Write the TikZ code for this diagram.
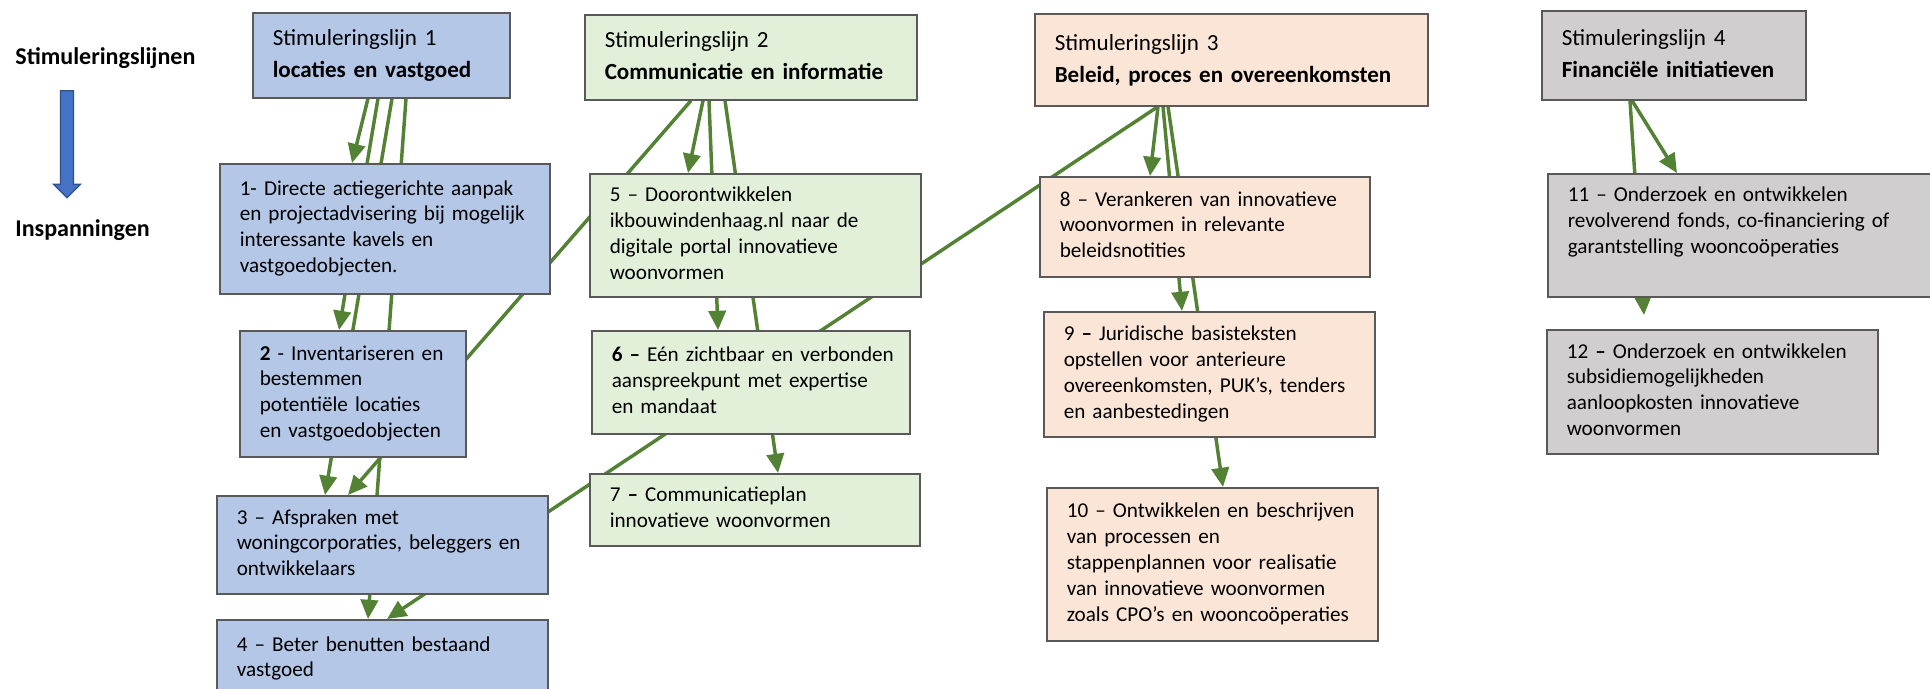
\documentclass[tikz,border=0pt]{standalone}
\usepackage{fontspec}
\setmainfont{Carlito}
\usetikzlibrary{arrows.meta,calc,backgrounds,shapes.arrows}

\definecolor{vlakblauw}{HTML}{B4C7E7}
\definecolor{vlakgroen}{HTML}{E2F0D9}
\definecolor{vlakzalm}{HTML}{FBE5D6}
\definecolor{vlakgrijs}{HTML}{D0CECE}
\definecolor{pijlgroen}{RGB}{84,130,53}
\definecolor{pijlblauw}{HTML}{4472C4}
\definecolor{randblauw}{HTML}{2F528F}

\newcommand{\regels}[1]{\begin{tabular}{@{}l@{}}#1\end{tabular}}

\tikzset{
  vak/.style={draw=black!65, line width=0.8pt, anchor=north west, align=left,
    inner xsep=10.4pt, inner ysep=0pt, font=\fontsize{11}{13.5}\selectfont},
  kop/.style={vak, font=\fontsize{12}{16.6}\selectfont},
  maat/.style 2 args={text width=#1, minimum height=#2},
  zijkop/.style={anchor=west, inner sep=0pt, font=\bfseries\fontsize{12.5}{15}\selectfont},
  blokpijl/.style={single arrow, draw=randblauw, fill=pijlblauw, line width=0.6pt,
    inner xsep=0pt, inner ysep=3.1pt, minimum height=55.6pt,
    single arrow head extend=3.64pt, rotate=-90},
  lijn/.style={draw=pijlgroen, line width=1.8pt, -{Triangle[length=10pt,width=9pt]}}
}

\begin{document}
\begin{tikzpicture}[x=0.52pt, y=-0.52pt]
\useasboundingbox (0,0) rectangle (1930,688);
\clip (0,0) rectangle (1930,688);

\node[zijkop] (stim) at (15,58) {Stimuleringslijnen};
\node[zijkop] (insp) at (15,230) {Inspanningen};
\node[blokpijl] (neer) at (67,141) {};

\node[kop, fill=vlakblauw, maat={112.84pt}{44.2pt}] (S1) at (252,12) {\regels{Stimuleringslijn 1\\\textbf{locaties en vastgoed}}};
\node[kop, fill=vlakgroen, maat={151.84pt}{44.2pt}] (S2) at (584,14) {\regels{Stimuleringslijn 2\\\textbf{Communicatie en informatie}}};
\node[kop, fill=vlakzalm, maat={183.56pt}{47.84pt}] (S3) at (1034,13) {\regels{Stimuleringslijn 3\\\textbf{Beleid, proces en overeenkomsten}}};
\node[kop, fill=vlakgrijs, maat={116.48pt}{46.28pt}] (S4) at (1541,10) {\regels{Stimuleringslijn 4\\\textbf{Financiële initiatieven}}};

\node[vak, fill=vlakblauw, maat={150.8pt}{67.6pt}] (I1) at (219,163) {\regels{1- Directe actiegerichte aanpak\\en projectadvisering bij mogelijk\\interessante kavels en\\vastgoedobjecten.}};
\node[vak, fill=vlakblauw, maat={96.72pt}{65.52pt}] (I2) at (239,330) {\regels{\textbf{2} - Inventariseren en\\bestemmen\\potentiële locaties\\en vastgoedobjecten}};
\node[vak, fill=vlakblauw, maat={151.32pt}{50.96pt}] (I3) at (216,495) {\regels{3 – Afspraken met\\woningcorporaties, beleggers en\\ontwikkelaars}};
\node[vak, fill=vlakblauw, maat={151.32pt}{54.08pt}] (I4) at (216,619) {\regels{4 – Beter benutten bestaand\\vastgoed\\~}};

\node[vak, fill=vlakgroen, maat={151.32pt}{63.96pt}] (I5) at (589,173) {\regels{5 – Doorontwikkelen\\ikbouwindenhaag.nl naar de\\digitale portal innovatieve\\woonvormen}};
\node[vak, fill=vlakgroen, maat={144.56pt}{53.56pt}] (I6) at (591,330) {\regels{\textbf{6 –} Eén zichtbaar en verbonden\\aanspreekpunt met expertise\\en mandaat}};
\node[vak, fill=vlakgroen, maat={150.8pt}{37.44pt}] (I7) at (589,473) {\regels{7 \textbf{–} Communicatieplan\\innovatieve woonvormen}};

\node[vak, fill=vlakzalm, maat={150.8pt}{52pt}] (I8) at (1039,176) {\regels{8 – Verankeren van innovatieve\\woonvormen in relevante\\beleidsnotities}};
\node[vak, fill=vlakzalm, maat={151.32pt}{65pt}] (I9) at (1043,311) {\regels{9 \textbf{–} Juridische basisteksten\\opstellen voor anterieure\\overeenkomsten, PUK’s, tenders\\en aanbestedingen}};
\node[vak, fill=vlakzalm, maat={151.32pt}{79.56pt}] (I10) at (1046,487) {\regels{10 – Ontwikkelen en beschrijven\\van processen en\\stappenplannen voor realisatie\\van innovatieve woonvormen\\zoals CPO’s en wooncoöperaties}};

\node[vak, fill=vlakgrijs, maat={197.6pt}{63.96pt}] (I11) at (1547,173) {\regels{11 – Onderzoek en ontwikkelen\\revolverend fonds, co-financiering of\\garantstelling wooncoöperaties\\~}};
\node[vak, fill=vlakgrijs, maat={151.32pt}{64.48pt}] (I12) at (1546,329) {\regels{12 \textbf{–} Onderzoek en ontwikkelen\\subsidiemogelijkheden\\aanloopkosten innovatieve\\woonvormen}};

\begin{scope}[on background layer]
\fill[white] (0,0) rectangle (1930,688);
\draw[lijn] ($(S1.south west)+(116,0)$) -- ($(I1.north west)+(133,0)$);
\draw[lijn] ($(S1.south west)+(126,0)$) -- ($(I2.north west)+(100,0)$);
\draw[lijn] ($(S1.south west)+(140,0)$) -- ($(I3.north west)+(109,0)$);
\draw[lijn] ($(S1.south west)+(154,0)$) -- ($(I4.north west)+(152,0)$);
\draw[lijn] ($(S2.south west)+(107,0)$) -- ($(I3.north west)+(132,0)$);
\draw[lijn] ($(S2.south west)+(119,0)$) -- ($(I5.north west)+(99,0)$);
\draw[lijn] ($(S2.south west)+(125,0)$) -- ($(I6.north west)+(127,0)$);
\draw[lijn] ($(S2.south west)+(141,0)$) -- ($(I7.north west)+(189,0)$);
\draw[lijn] ($(S3.south west)+(124,0)$) -- ($(I4.north west)+(171,0)$);
\draw[lijn] ($(S3.south west)+(124,0)$) -- ($(I8.north west)+(111,0)$);
\draw[lijn] ($(S3.south west)+(129,0)$) -- ($(I9.north west)+(139,0)$);
\draw[lijn] ($(S3.south west)+(134,0)$) -- ($(I10.north west)+(177,0)$);
\draw[lijn] ($(S4.south west)+(89,0)$) -- ($(I12.north west)+(98,-14)$);
\draw[lijn] ($(S4.south west)+(91,0)$) -- ($(I11.north west)+(130,0)$);
\end{scope}
\end{tikzpicture}
\end{document}
